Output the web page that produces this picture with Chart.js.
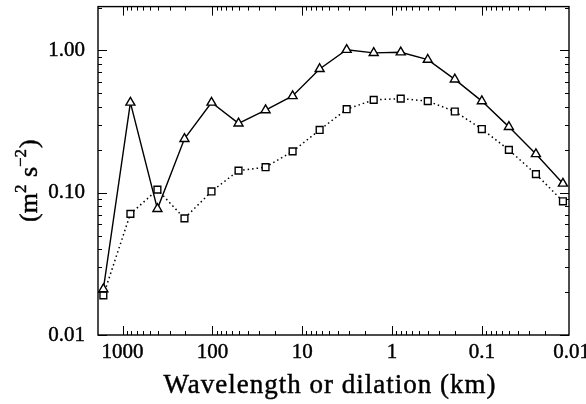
<!DOCTYPE html>
<html lang="en">
<head>
    <meta charset="UTF-8">
    <title>Wavelength spectrum</title>
    <style>
        body {
            margin: 0;
            background-color: #ffffff;
        }

        #spectrum {
            display: block;
        }
    </style>
</head>
<body>
    <canvas id="spectrum" width="586" height="404"></canvas>

    <script src="https://cdn.jsdelivr.net/npm/chart.js"></script>
    <script>
        // wavelength / dilation in km (dyadic steps)
        const wavelengthKm = [1638.4, 819.2, 409.6, 204.8, 102.4, 51.2, 25.6, 12.8, 6.4, 3.2, 1.6, 0.8, 0.4, 0.2, 0.1, 0.05, 0.025, 0.0125];
        const triangleValues = [0.021, 0.43, 0.077, 0.239, 0.43, 0.307, 0.38, 0.478, 0.74, 1.01, 0.96, 0.97, 0.86, 0.625, 0.44, 0.29, 0.187, 0.116];
        const squareValues = [0.019, 0.071, 0.105, 0.066, 0.102, 0.143, 0.151, 0.195, 0.276, 0.386, 0.449, 0.458, 0.44, 0.372, 0.28, 0.20, 0.135, 0.087];

        const xTickValues = [1000, 100, 10, 1, 0.1, 0.01];
        const xTickLabels = ['1000', '100', '10', '1', '0.1', '0.01'];
        const yTickValues = [0.01, 0.1, 1];
        const yTickLabels = ['0.01', '0.10', '1.00'];

        const serif = '"Liberation Serif", "DejaVu Serif", serif';

        function toPoints(values) {
            return values.map((v, i) => ({ x: wavelengthKm[i], y: v }));
        }

        function tick(ctx, x1, y1, x2, y2) {
            ctx.beginPath();
            ctx.moveTo(x1, y1);
            ctx.lineTo(x2, y2);
            ctx.stroke();
        }

        // text drawn a little heavier, like the printed figure
        function inkText(ctx, text, x, y) {
            ctx.fillText(text, x, y);
            ctx.strokeText(text, x, y);
        }

        // frame, inward ticks (major + minor) on all four sides, labels and titles
        const axisDecor = {
            id: 'axisDecor',
            beforeDatasetsDraw(chart) {
                const { ctx, chartArea: a, scales: { x, y } } = chart;
                ctx.save();
                ctx.strokeStyle = '#000';
                ctx.lineWidth = 1.4;
                ctx.strokeRect(a.left, a.top, a.right - a.left, a.bottom - a.top);
                ctx.lineWidth = 1;
                for (let e = -3; e <= 3; e++) {
                    for (let k = 1; k <= 9; k++) {
                        const v = k * Math.pow(10, e);
                        const len = k === 1 ? 9 : 4;
                        if (v >= x.min && v <= x.max) {
                            const px = Math.round(x.getPixelForValue(v)) + 0.5;
                            tick(ctx, px, a.bottom, px, a.bottom - len);
                            tick(ctx, px, a.top, px, a.top + len);
                        }
                        if (v >= y.min && v <= y.max) {
                            const py = Math.round(y.getPixelForValue(v)) + 0.5;
                            tick(ctx, a.left, py, a.left + len, py);
                            tick(ctx, a.right, py, a.right - len, py);
                        }
                    }
                }
                ctx.restore();
            },
            afterDraw(chart) {
                const { ctx, chartArea: a, scales: { x, y } } = chart;
                ctx.save();
                ctx.fillStyle = '#000';
                ctx.strokeStyle = '#000';
                ctx.lineWidth = 0.45;
                ctx.font = '21px ' + serif;

                ctx.textAlign = 'center';
                ctx.textBaseline = 'top';
                xTickValues.forEach((v, i) => {
                    inkText(ctx, xTickLabels[i], x.getPixelForValue(v), a.bottom + 7);
                });

                ctx.textAlign = 'right';
                ctx.textBaseline = 'middle';
                yTickValues.forEach((v, i) => {
                    inkText(ctx, yTickLabels[i], 85, y.getPixelForValue(v));
                });

                // x title
                ctx.font = '27px ' + serif;
                ctx.letterSpacing = '1px';
                ctx.textAlign = 'center';
                ctx.textBaseline = 'alphabetic';
                inkText(ctx, 'Wavelength or dilation (km)', 330, 393);
                ctx.letterSpacing = '0px';

                // y title, rotated, with superscripts
                ctx.translate(37, 222);
                ctx.rotate(-Math.PI / 2);
                ctx.textAlign = 'left';
                const parts = [
                    { t: '(m', sup: false },
                    { t: '2', sup: true },
                    { t: ' s', sup: false },
                    { t: '\u22122', sup: true },
                    { t: ')', sup: false }
                ];
                let cx = 0;
                parts.forEach(p => {
                    ctx.font = (p.sup ? '17px ' : '26px ') + serif;
                    const dy = p.sup ? -11 : 0;
                    inkText(ctx, p.t, cx, dy);
                    cx += ctx.measureText(p.t).width + (p.sup ? 1 : 0);
                });
                ctx.restore();
            }
        };

        const chart = new Chart(document.getElementById('spectrum').getContext('2d'), {
            type: 'line',
            data: {
                datasets: [
                    {
                        label: 'triangles',
                        data: toPoints(triangleValues),
                        borderColor: '#000',
                        borderWidth: 1.4,
                        pointStyle: 'triangle',
                        pointRadius: 5.2,
                        pointBorderWidth: 1.4,
                        pointBorderColor: '#000',
                        pointBackgroundColor: '#fff',
                        tension: 0
                    },
                    {
                        label: 'squares',
                        data: toPoints(squareValues),
                        borderColor: '#000',
                        borderWidth: 1.5,
                        borderDash: [1.5, 3],
                        pointStyle: 'rect',
                        pointRadius: 4.8,
                        pointBorderWidth: 1.4,
                        pointBorderColor: '#000',
                        pointBackgroundColor: '#fff',
                        tension: 0
                    }
                ]
            },
            options: {
                responsive: false,
                animation: false,
                layout: { padding: { top: 5, right: 17, left: 0, bottom: 0 } },
                plugins: {
                    legend: { display: false },
                    tooltip: { enabled: false }
                },
                scales: {
                    x: {
                        type: 'logarithmic',
                        reverse: true,
                        min: 0.0107,
                        max: 1880,
                        grid: { display: false },
                        border: { display: false },
                        ticks: { display: false },
                        afterFit(scale) { scale.height = 69; }
                    },
                    y: {
                        type: 'logarithmic',
                        min: 0.01,
                        max: 2.03,
                        grid: { display: false },
                        border: { display: false },
                        ticks: { display: false },
                        afterFit(scale) { scale.width = 98; }
                    }
                }
            },
            plugins: [axisDecor]
        });
    </script>
</body>
</html>
